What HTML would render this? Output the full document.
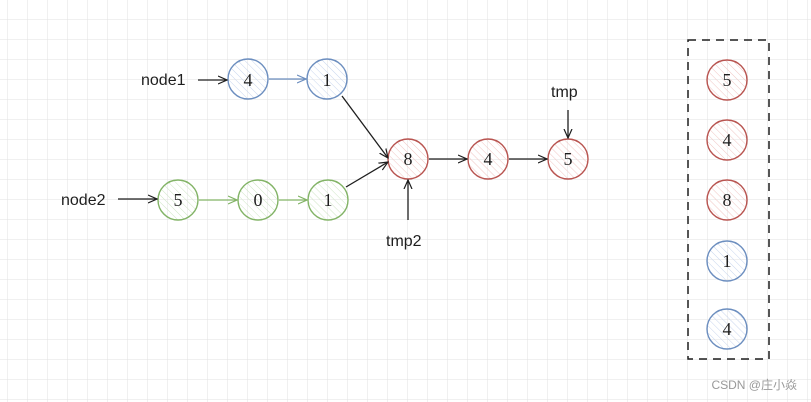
<!DOCTYPE html><html><head><style>body{margin:0;background:#fff}svg{display:block}</style></head><body>
<svg width="811" height="402" xmlns="http://www.w3.org/2000/svg" font-family="Liberation Serif, serif">
<defs>
<pattern id="g" width="20" height="20" patternUnits="userSpaceOnUse" x="8" y="0"><path d="M20 0V20M0 20H20" stroke="#e2e2e2" stroke-width="1" fill="none"/></pattern>
<pattern id="hb" width="5" height="5" patternUnits="userSpaceOnUse" patternTransform="rotate(-45)"><line x1="0" y1="0" x2="0" y2="5" stroke="#c9d6ee" stroke-width="1"/></pattern>
<pattern id="hg" width="5" height="5" patternUnits="userSpaceOnUse" patternTransform="rotate(-45)"><line x1="0" y1="0" x2="0" y2="5" stroke="#cfe6c6" stroke-width="1"/></pattern>
<pattern id="hr" width="5" height="5" patternUnits="userSpaceOnUse" patternTransform="rotate(-45)"><line x1="0" y1="0" x2="0" y2="5" stroke="#f0c6c4" stroke-width="1"/></pattern>
<marker id="a" markerWidth="10" markerHeight="10" refX="9" refY="5" orient="auto" markerUnits="userSpaceOnUse"><path d="M0 1L9 5L0 9" fill="none" stroke="#1e1e1e" stroke-width="1.2"/></marker>
<marker id="ab" markerWidth="10" markerHeight="10" refX="9" refY="5" orient="auto" markerUnits="userSpaceOnUse"><path d="M0 1L9 5L0 9" fill="none" stroke="#6c8ebf" stroke-width="1.2"/></marker>
<marker id="ag" markerWidth="10" markerHeight="10" refX="9" refY="5" orient="auto" markerUnits="userSpaceOnUse"><path d="M0 1L9 5L0 9" fill="none" stroke="#82b366" stroke-width="1.2"/></marker>
</defs>
<rect width="811" height="402" fill="url(#g)"/>
<g stroke-width="1.4">
<circle cx="248" cy="79" r="20" fill="url(#hb)" stroke="#6c8ebf"/>
<circle cx="327" cy="79" r="20" fill="url(#hb)" stroke="#6c8ebf"/>
<circle cx="178" cy="200" r="20" fill="url(#hg)" stroke="#82b366"/>
<circle cx="258" cy="200" r="20" fill="url(#hg)" stroke="#82b366"/>
<circle cx="328" cy="200" r="20" fill="url(#hg)" stroke="#82b366"/>
<circle cx="408" cy="159" r="20" fill="url(#hr)" stroke="#b85450"/>
<circle cx="488" cy="159" r="20" fill="url(#hr)" stroke="#b85450"/>
<circle cx="568" cy="159" r="20" fill="url(#hr)" stroke="#b85450"/>
<circle cx="727" cy="80" r="20" fill="url(#hr)" stroke="#b85450"/>
<circle cx="727" cy="140" r="20" fill="url(#hr)" stroke="#b85450"/>
<circle cx="727" cy="200" r="20" fill="url(#hr)" stroke="#b85450"/>
<circle cx="727" cy="261" r="20" fill="url(#hb)" stroke="#6c8ebf"/>
<circle cx="727" cy="329" r="20" fill="url(#hb)" stroke="#6c8ebf"/>
</g>
<rect x="688" y="40" width="81" height="319" fill="none" stroke="#1e1e1e" stroke-width="1.5" stroke-dasharray="8 6"/>
<g fill="none" stroke-width="1.3">
<path d="M198 80H227" stroke="#1e1e1e" marker-end="url(#a)"/>
<path d="M269 79H306" stroke="#6c8ebf" marker-end="url(#ab)"/>
<path d="M118 199H157" stroke="#1e1e1e" marker-end="url(#a)"/>
<path d="M199 200H237" stroke="#82b366" marker-end="url(#ag)"/>
<path d="M279 200H307" stroke="#82b366" marker-end="url(#ag)"/>
<path d="M342 96L388 158" stroke="#1e1e1e" marker-end="url(#a)"/>
<path d="M346 187L388 162" stroke="#1e1e1e" marker-end="url(#a)"/>
<path d="M429 159H467" stroke="#1e1e1e" marker-end="url(#a)"/>
<path d="M509 159H547" stroke="#1e1e1e" marker-end="url(#a)"/>
<path d="M568 110V138" stroke="#1e1e1e" marker-end="url(#a)"/>
<path d="M408 220V180" stroke="#1e1e1e" marker-end="url(#a)"/>
</g>
<g font-size="18" text-anchor="middle" fill="#1e1e1e" dominant-baseline="central">
<text x="248" y="80">4</text><text x="327" y="80">1</text>
<text x="178" y="200">5</text><text x="258" y="200">0</text><text x="328" y="200">1</text>
<text x="408" y="159">8</text><text x="488" y="159">4</text><text x="568" y="159">5</text>
<text x="727" y="80">5</text><text x="727" y="140">4</text><text x="727" y="200">8</text><text x="727" y="261">1</text><text x="727" y="329">4</text>
</g>
<g font-family="Liberation Sans, sans-serif" font-size="16" fill="#1e1e1e">
<text x="141" y="85">node1</text>
<text x="61" y="205">node2</text>
<text x="551" y="97">tmp</text>
<text x="386" y="246">tmp2</text>
</g>
<text x="797" y="389" text-anchor="end" font-family="Liberation Sans, Noto Sans CJK SC, sans-serif" font-size="12" fill="#999">CSDN @庄小焱</text>
</svg>
</body></html>
